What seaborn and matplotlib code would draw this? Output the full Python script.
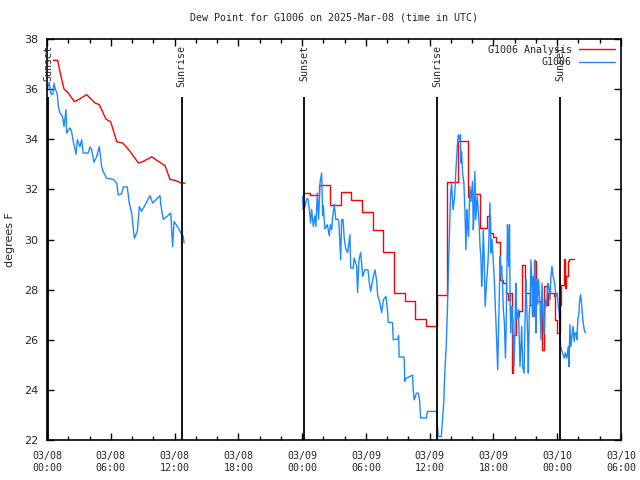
import pandas as pd
import matplotlib
matplotlib.use("Agg")
import matplotlib.pyplot as plt
import matplotlib.dates as mdates
import seaborn as sns

# hours after 2025-03-08 00:00 UTC
sunset_hours = [0.1, 24.2, 48.3]
sunrise_hours = [12.67, 36.7]

# G1006 Analysis, evening of 03/08
red1_hours = [0.6, 1.0, 1.22, 1.6, 2.0, 2.57, 3.04, 3.73, 4.52, 4.92, 5.55, 5.99,
              6.56, 7.12, 7.75, 8.6, 9.06, 9.85, 10.47, 11.1, 11.57, 12.04, 12.67, 13.0]
red1_vals = [37.15, 37.15, 36.7, 36.0, 35.85, 35.5, 35.6, 35.78, 35.45, 35.38, 34.8, 34.7,
             33.9, 33.85, 33.55, 33.05, 33.12, 33.3, 33.12, 32.95, 32.4, 32.36, 32.25, 32.25]

# G1006 Analysis, 03/09 onward (hourly steps)
red2_hours = [24.05, 24.7, 25.6, 26.62, 27.62, 28.6, 29.66, 30.68, 31.62, 32.68, 33.64,
              34.64, 35.62, 36.68, 37.64, 38.66, 39.6, 39.9, 40.72, 41.35, 41.65, 41.95,
              42.2, 42.62, 42.9, 43.15, 43.4, 43.55, 43.72, 43.85, 44.15, 44.45, 44.72,
              45.0, 45.45, 45.65, 45.78, 46.05, 46.4, 46.6, 46.72, 47.05, 47.15, 47.72,
              47.78, 47.95, 48.24, 48.4, 48.62, 48.74, 48.87, 49.0, 49.15, 49.58]
red2_vals = [31.85, 31.77, 32.17, 31.37, 31.9, 31.58, 31.1, 30.38, 29.5, 27.86, 27.54,
             26.82, 26.56, 27.8, 32.28, 33.93, 31.7, 31.82, 30.46, 30.92, 30.26, 30.1,
             29.92, 28.4, 28.26, 27.86, 27.6, 27.86, 24.67, 26.2, 26.93, 27.13, 29.0,
             27.86, 27.4, 26.93, 29.13, 27.53, 27.45, 25.6, 28.13, 27.4, 27.86, 27.73,
             26.8, 26.27, 27.4, 28.2, 29.22, 28.06, 28.53, 29.13, 29.22, 29.22]

# G1006 observations, evening of 03/08
blue1_hours = [0.03, 0.2, 0.38, 0.55, 0.66, 0.75, 0.97, 1.07, 1.22, 1.47, 1.6, 1.79, 1.85,
               2.16, 2.3, 2.48, 2.73, 2.85, 3.1, 3.26, 3.41, 3.88, 4.05, 4.2, 4.42, 4.67,
               4.92, 5.15, 5.3, 5.6, 6.24, 6.56, 6.7, 7.02, 7.18, 7.55, 7.74, 7.97, 8.22,
               8.5, 8.69, 8.9, 9.69, 9.94, 10.63, 10.7, 10.94, 11.64, 11.82, 11.95, 12.35,
               12.67, 12.8, 12.9]
blue1_vals = [36.0, 36.27, 35.8, 35.8, 36.24, 36.05, 35.78, 35.3, 35.05, 34.9, 34.5, 35.18,
              34.25, 34.45, 34.33, 33.9, 33.4, 33.98, 33.7, 33.98, 33.45, 33.45, 33.7, 33.58,
              33.08, 33.3, 33.7, 32.9, 32.7, 32.45, 32.4, 32.25, 31.78, 31.82, 32.1, 32.1,
              31.45, 31.05, 30.05, 30.32, 31.32, 31.12, 31.75, 31.45, 31.75, 31.4, 30.8,
              31.05, 29.72, 30.72, 30.46, 30.2, 30.15, 29.86]

# G1006 observations, 03/09 onward
blue2_hours = [24.05, 24.1, 24.25, 24.43, 24.55, 24.68, 24.8, 24.9, 25.05, 25.2, 25.3,
               25.43, 25.55, 25.68, 25.84, 25.93, 26.0, 26.14, 26.37, 26.56, 26.65, 26.79,
               26.88, 27.03, 27.17, 27.31, 27.45, 27.63, 27.72, 27.85, 27.97, 28.13, 28.29,
               28.5, 28.57, 28.8, 28.9, 29.13, 29.22, 29.35, 29.51, 29.7, 29.9, 30.2,
               30.32, 30.45, 30.7, 30.86, 31.02, 31.11, 31.32, 31.48, 31.65, 31.89, 32.05,
               32.1, 32.5, 32.57, 33.0, 33.08, 33.13, 33.6, 33.66, 33.75, 34.4, 34.45,
               34.55, 34.75, 34.93, 35.05, 35.15, 35.7, 35.78, 36.66, 36.72, 36.8, 37.1,
               37.2, 37.32, 37.41, 37.57, 37.66, 37.75, 37.9, 37.97, 38.06, 38.13, 38.2,
               38.35, 38.47, 38.6, 38.69, 38.8, 38.9, 38.93, 39.0, 39.1, 39.22, 39.32,
               39.41, 39.5, 39.57, 39.66, 39.78, 39.88, 40.03, 40.1, 40.17, 40.25, 40.34,
               40.47, 40.55, 40.66, 40.74, 40.83, 40.89, 40.97, 41.04, 41.13, 41.22, 41.35,
               41.48, 41.55, 41.67, 41.77, 41.87, 41.99, 42.08, 42.18, 42.3, 42.4, 42.49,
               42.55, 42.63, 42.7, 42.77, 42.85, 42.93, 43.03, 43.13, 43.2, 43.32, 43.4,
               43.45, 43.51, 43.57, 43.63, 43.72, 43.8, 43.93, 44.02, 44.1, 44.17, 44.26,
               44.35, 44.43, 44.5, 44.66, 44.75, 44.88, 44.96, 45.06, 45.13, 45.22, 45.28,
               45.37, 45.45, 45.53, 45.62, 45.69, 45.75, 45.82, 45.91, 46.0, 46.06, 46.15,
               46.24, 46.38, 46.47, 46.57, 46.69, 46.78, 46.87, 47.0, 47.1, 47.2, 47.32,
               47.41, 47.51, 47.6, 47.69, 47.79, 47.88, 48.0, 48.1, 48.19, 48.26, 48.32,
               48.41, 48.56, 48.66, 48.76, 48.9, 49.04, 49.1, 49.2, 49.29, 49.38, 49.5,
               49.6, 49.69, 49.8, 49.84, 49.94, 50.03, 50.1, 50.2, 50.29, 50.41, 50.54,
               50.66]
blue2_vals = [31.72, 31.19, 31.3, 31.62, 31.62, 31.19, 30.66, 31.2, 30.52, 30.95, 30.52,
              31.85, 30.8, 32.25, 32.65, 30.95, 31.35, 30.42, 30.59, 30.15, 30.59, 30.39,
              30.92, 31.4, 30.79, 30.82, 30.75, 29.19, 30.79, 30.8, 30.0, 29.59, 29.48,
              30.19, 28.86, 28.86, 29.26, 28.93, 27.89, 29.19, 29.48, 28.53, 28.79, 28.79,
              28.29, 27.93, 28.53, 28.79, 28.33, 27.76, 27.47, 27.09, 27.6, 27.73, 27.09,
              26.69, 26.69, 26.0, 26.03, 26.16, 25.31, 25.31, 24.34, 24.45, 24.59, 24.0,
              23.6, 23.87, 23.87, 23.6, 22.88, 22.88, 23.14, 23.14, 22.65, 22.14, 22.14,
              22.8, 23.45, 24.53, 25.87, 27.06, 28.53, 30.79, 31.83, 32.25, 31.7, 31.19,
              31.72, 32.78, 33.71, 34.18, 33.98, 34.18, 33.05, 33.5, 32.65, 32.25, 31.12,
              29.59, 31.19, 30.52, 30.12, 32.12, 31.52, 32.32, 30.39, 30.85, 32.72, 30.79,
              31.72, 31.32, 30.52, 29.72, 29.19, 28.13, 28.8, 30.39, 29.33, 27.33, 28.26,
              29.06, 29.73, 31.46, 29.46, 30.0, 29.06, 28.4, 27.33, 26.0, 24.8, 26.53,
              27.86, 29.33, 28.6, 28.93, 28.26, 27.2, 26.67, 25.27, 26.6, 30.59, 29.33,
              28.93, 30.59, 27.4, 26.27, 27.33, 26.93, 24.93, 26.27, 28.26, 26.8, 26.93,
              27.2, 26.0, 24.93, 26.53, 24.93, 24.67, 26.53, 28.4, 27.33, 26.13, 24.67,
              27.06, 27.46, 29.19, 28.13, 26.93, 28.53, 26.93, 29.19, 26.27, 28.4, 27.4,
              28.4, 27.46, 26.0, 28.26, 26.8, 26.27, 27.6, 27.33, 28.26, 28.13, 27.6,
              28.53, 28.93, 28.53, 28.4, 28.13, 27.73, 27.86, 27.33, 27.06, 26.27, 25.73,
              25.6, 25.4, 25.27, 25.47, 25.27, 25.73, 24.93, 26.6, 25.73, 26.13, 26.53,
              25.93, 26.27, 26.27, 26.0, 26.8, 27.0, 27.53, 27.8, 27.46, 26.8, 26.4,
              26.27]

start = pd.Timestamp("2025-03-08 00:00")


def to_time(hours):
    return start + pd.to_timedelta(pd.Series(hours, dtype=float), unit="h")


red_color = "#ff0000"
blue_color = "#1e88ff"
mono = "DejaVu Sans Mono"
fs = 7.2

sns.set_style("ticks")
plt.rcParams["font.family"] = [mono, "DejaVu Sans"]

fig = plt.figure(figsize=(6.4, 4.8), dpi=100)
ax = fig.add_axes([47 / 640, 1 - 440 / 480, 574 / 640, 401 / 480])

sns.lineplot(x=to_time(red1_hours), y=red1_vals, color=red_color, lw=1.0,
             estimator=None, sort=False, ax=ax, label="G1006 Analysis")
sns.lineplot(x=to_time(red2_hours), y=red2_vals, color=red_color, lw=1.0,
             estimator=None, sort=False, ax=ax, drawstyle="steps-post")
sns.lineplot(x=to_time(blue1_hours), y=blue1_vals, color=blue_color, lw=1.0,
             estimator=None, sort=False, ax=ax, label="G1006")
sns.lineplot(x=to_time(blue2_hours), y=blue2_vals, color=blue_color, lw=1.0,
             estimator=None, sort=False, ax=ax)

# sunrise / sunset markers
for name, hours in [("Sunset", sunset_hours), ("Sunrise", sunrise_hours)]:
    for t in to_time(hours):
        ax.vlines(t, 22, 35.7, color="black", lw=1.3, zorder=5)
        ax.text(t, 37.78, name, rotation=90, ha="center", va="top",
                fontsize=fs, family=[mono])

ax.set_xlim(start, start + pd.Timedelta(hours=54))
ax.set_ylim(22, 38)
ax.set_yticks(range(22, 39, 2))
ax.xaxis.set_major_locator(mdates.HourLocator(byhour=[0, 6, 12, 18]))
ax.xaxis.set_minor_locator(mdates.HourLocator(interval=2))
ax.xaxis.set_major_formatter(mdates.DateFormatter("%m/%d\n%H:%M"))

ax.tick_params(which="both", direction="in", top=True, right=True, color="black")
ax.tick_params(which="major", length=5, width=1, labelsize=fs, pad=8)
ax.tick_params(axis="y", which="major", labelsize=8, pad=6)
ax.tick_params(which="minor", length=3, width=1)
for lbl in ax.get_yticklabels():
    lbl.set_family("DejaVu Sans")
for s in ax.spines.values():
    s.set_linewidth(1.2)
    s.set_color("black")

ax.set_xlabel("")
ax.set_ylabel("")
fig.text(10 / 640, 1 - 240 / 480, "degrees F", rotation=90, ha="center", va="center",
         fontsize=8, family="DejaVu Sans")
ax.set_title("Dew Point for G1006 on 2025-Mar-08 (time in UTC)", fontsize=fs, pad=13)

ax.legend(loc="upper right", frameon=False, markerfirst=False, fontsize=fs,
          handlelength=3.6, handletextpad=0.7, labelspacing=0.25,
          borderaxespad=0.2)

fig.savefig("out.png", dpi=100)
